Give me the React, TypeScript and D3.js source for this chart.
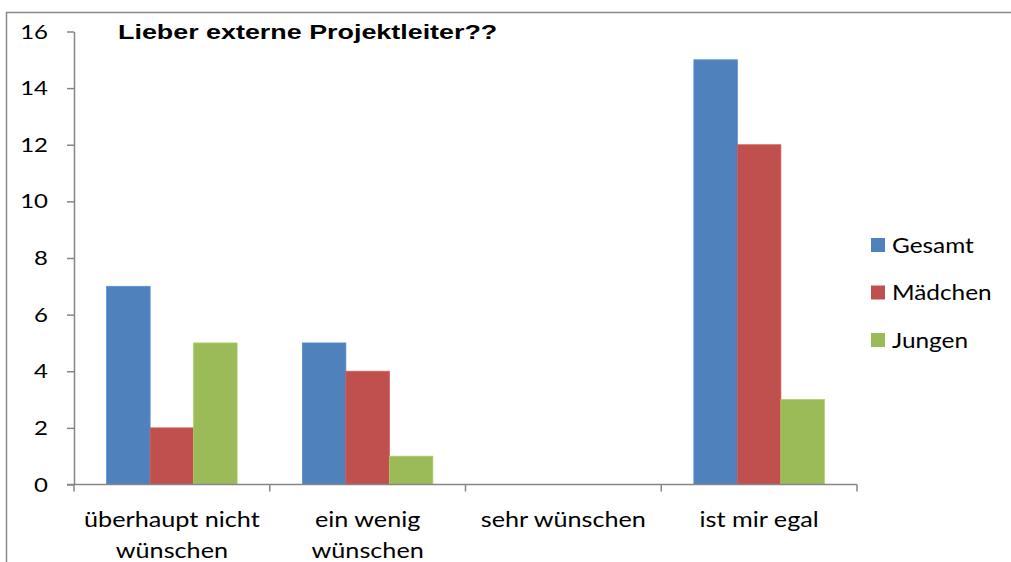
import React, { useEffect, useRef } from "react";
import * as d3 from "d3";

const categories = [["überhaupt nicht", "wünschen"], ["ein wenig", "wünschen"], ["sehr wünschen"], ["ist mir egal"]];
const seriesNames = ["Gesamt", "Mädchen", "Jungen"];
const gesamt = [7, 5, 0, 15];
const maedchen = [2, 4, 0, 12];
const jungen = [5, 1, 0, 3];
const yTicks = [0, 2, 4, 6, 8, 10, 12, 14, 16];
const title = "Lieber externe Projektleiter??";

const colors = ["#4F81BD", "#C0504D", "#9BBB59"];
const labelFont = "Lato, 'Open Sans', sans-serif";
// the reference text is drawn a bit wider than the font
const sx = 1.2;

export default function App() {
  const svgRef = useRef<SVGSVGElement>(null);

  useEffect(() => {
    const w = 1011;
    const h = 562;
    const svg = d3.select(svgRef.current).attr("width", w).attr("height", h);
    svg.selectAll("*").remove();

    const left = 74;
    const right = 857;
    const top = 31.5;
    const bottom = 484.5;

    const addText = (x: number, y: number, txt: string, anchor: string, size: number, font = labelFont, weight = "normal", scale = sx) => {
      svg
        .append("g")
        .attr("transform", `translate(${x},${y}) scale(${scale},1)`)
        .append("text")
        .attr("text-anchor", anchor)
        .style("font-family", font)
        .style("font-size", size + "px")
        .style("font-weight", weight)
        .attr("fill", "#000")
        .text(txt);
    };

    // chart frame
    svg
      .append("rect")
      .attr("x", 6.5)
      .attr("y", 12.5)
      .attr("width", w + 20)
      .attr("height", h + 20)
      .attr("fill", "white")
      .attr("stroke", "#898989")
      .attr("stroke-width", 1.5);

    const keys = categories.map((c) => c.join(" "));
    const x0 = d3.scaleBand().domain(keys).range([left, right]);
    const barW = x0.bandwidth() / 4.5;
    const x1 = d3
      .scaleBand()
      .domain(seriesNames)
      .range([0, barW * 3]);
    const y = d3.scaleLinear().domain([0, 16]).range([bottom, top]);

    const series = [gesamt, maedchen, jungen];
    series.forEach((vals, si) => {
      svg
        .append("g")
        .selectAll("rect")
        .data(vals)
        .join("rect")
        .attr("x", (d, i) => x0(keys[i])! + barW * 0.75 + x1(seriesNames[si])!)
        .attr("y", (d) => y(d))
        .attr("width", x1.bandwidth())
        .attr("height", (d) => bottom - y(d))
        .attr("fill", colors[si])
        .attr("stroke", d3.color(colors[si])!.brighter(0.3).toString())
        .attr("stroke-width", (d) => (d > 0 ? 0.8 : 0));
    });

    const axisColor = "#868686";

    // y axis
    const yAxis = svg
      .append("g")
      .attr("transform", `translate(${left},0)`)
      .call(d3.axisLeft(y).tickValues(yTicks).tickSize(7).tickFormat(() => "").tickSizeOuter(0));
    yAxis.selectAll("path, line").attr("stroke", axisColor).attr("stroke-width", 1.5);
    yTicks.forEach((t) => addText(48, y(t) + 7, String(t), "end", 20));

    // x axis line
    svg
      .append("line")
      .attr("x1", left - 7)
      .attr("x2", right)
      .attr("y1", bottom)
      .attr("y2", bottom)
      .attr("stroke", axisColor)
      .attr("stroke-width", 1.5);
    const bounds = [...keys.map((k) => x0(k)!), right];
    svg
      .append("g")
      .selectAll("line")
      .data(bounds)
      .join("line")
      .attr("x1", (d) => d)
      .attr("x2", (d) => d)
      .attr("y1", bottom)
      .attr("y2", bottom + 7)
      .attr("stroke", axisColor)
      .attr("stroke-width", 1.5);

    // category labels
    categories.forEach((lines, i) => {
      const cx = x0(keys[i])! + x0.bandwidth() / 2;
      lines.forEach((ln, j) => addText(cx, 526.5 + j * 31, ln, "middle", 21));
    });

    // title
    addText(118, 39, title, "start", 21, "'Liberation Sans', Arial, sans-serif", "bold", 1.28);

    // legend
    seriesNames.forEach((name, i) => {
      const ly = 238 + i * 47.5;
      svg
        .append("rect")
        .attr("x", 871)
        .attr("y", ly)
        .attr("width", 14)
        .attr("height", 14)
        .attr("fill", colors[i]);
      addText(892, ly + 14.5, name, "start", 21, labelFont, "normal", 1.16);
    });
  }, []);

  return (
    <div style={{ position: "absolute", left: 0, top: 0 }}>
      <svg ref={svgRef} style={{ display: "block" }}></svg>
    </div>
  );
}
